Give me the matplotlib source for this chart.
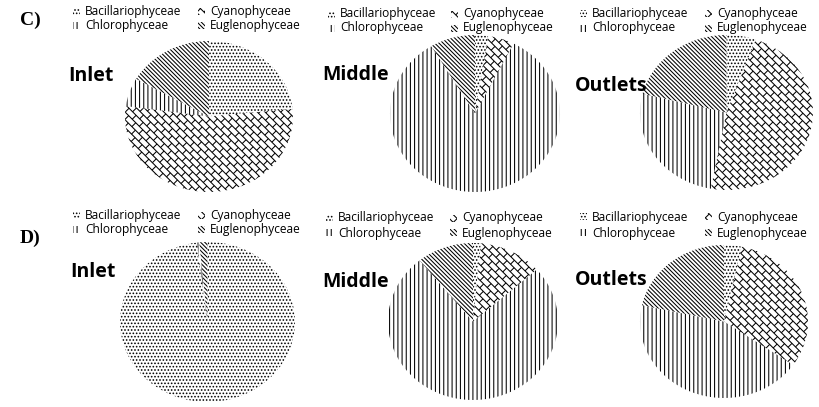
import numpy as np
import matplotlib.pyplot as plt
from matplotlib.collections import LineCollection
from matplotlib.patches import Rectangle
from matplotlib.transforms import IdentityTransform

W, H = 820, 407

categories = ['Bacillariophyceae', 'Cyanophyceae', 'Chlorophyceae', 'Euglenophyceae']
sites = ['Inlet', 'Middle', 'Outlets']
panel_labels = ['C)', 'D)']

# percentages, clockwise from 12 o'clock
c_inlet = [23.4, 53.8, 6.1, 16.7]
c_middle = [2.5, 5.0, 83.9, 8.6]
c_outlets = [5.5, 47.4, 26.0, 21.1]
d_inlet = [98.0, 0.1, 0.4, 1.5]
d_middle = [1.5, 12.0, 75.7, 10.8]
d_outlets = [3.4, 31.2, 43.8, 21.6]
data = [[c_inlet, c_middle, c_outlets], [d_inlet, d_middle, d_outlets]]

hatches = ['.....', None, '||||', '\\' * 8]  # None -> brick drawn by hand

plt.rcParams['hatch.linewidth'] = 0.75
plt.rcParams['font.family'] = ['Open Sans', 'DejaVu Sans']

# layout in pixels (left, top, right, bottom)
pie_boxes = [[(125, 41, 293, 192), (390, 35, 560, 192), (640, 35, 813, 190)],
             [(120, 242, 295, 402), (388, 243, 558, 400), (640, 245, 808, 398)]]
title_pos = [[(91, 76), (356, 75), (611, 86)],
             [(93, 272), (356, 282), (611, 280)]]
legend_pos = [[(85, 210, 11, 25), (340, 463, 14, 28), (592, 717, 13, 28)],
              [(85, 210, 215, 229), (338, 462, 218, 233), (592, 717, 217, 233)]]
label_pos = [(20, 20), (20, 238)]


def brick_segments(x0, y0, x1, y1, s=5.5, L=10.0):
    # diagonal brick pattern in display pixels
    d = np.array([1.0, -1.0]) / np.sqrt(2)
    v = np.array([1.0, 1.0]) / np.sqrt(2)
    corners = np.array([[x0, y0], [x0, y1], [x1, y0], [x1, y1]])
    pv = corners @ v
    pd = corners @ d
    kmin, kmax = int(np.floor(pv.min() / s)) - 1, int(np.ceil(pv.max() / s)) + 1
    tmin, tmax = pd.min() - L, pd.max() + L
    segs = []
    for k in range(kmin, kmax):
        base = v * k * s
        segs.append([base + d * tmin, base + d * tmax])
        off = (k % 2) * L / 2
        for j in range(int(np.floor(tmin / L)), int(np.ceil(tmax / L)) + 1):
            t = j * L + off
            p = base + d * t
            segs.append([p, p + v * s])
    return segs


def add_brick(target, clip, box):
    l, t, r, b = box
    lc = LineCollection(brick_segments(l, H - b, r, H - t), colors='black',
                        linewidths=0.75, transform=IdentityTransform())
    if target is fig:
        fig.add_artist(lc)
    else:
        target.add_collection(lc, autolim=False)
    lc.set_clip_path(clip)


fig = plt.figure(figsize=(W / 100, H / 100), dpi=100)

for row in range(2):
    for col in range(3):
        l, t, r, b = pie_boxes[row][col]
        ax = fig.add_axes([l / W, 1 - b / H, (r - l) / W, (b - t) / H])
        wedges, _ = ax.pie(data[row][col], startangle=90, counterclock=False,
                           colors=['white'] * 4,
                           wedgeprops=dict(linewidth=0, edgecolor='black'))
        for w, h in zip(wedges, hatches):
            if h:
                w.set_hatch(h)
        ax.set_aspect('auto')
        ax.set_xlim(-1, 1)
        ax.set_ylim(-1, 1)
        add_brick(ax, wedges[1], (l - 5, t - 5, r + 5, b + 5))

        tx, ty = title_pos[row][col]
        fig.text(tx / W, 1 - ty / H, sites[col], fontsize=14, fontweight='bold',
                 ha='center', va='center')

        x1, x2, y1, y2 = legend_pos[row][col]
        for i, cat in enumerate(categories):
            lx = [x1, x2][i % 2]
            ly = [y1, y2][i // 2]
            mbox = (lx - 12, ly - 3.5, lx - 5, ly + 3.5)
            rect = Rectangle(((lx - 12) / W, 1 - (ly + 3.5) / H), 7 / W, 7 / H,
                             transform=fig.transFigure, facecolor='white',
                             edgecolor='black', linewidth=0,
                             hatch=hatches[i] if hatches[i] else None)
            fig.add_artist(rect)
            if hatches[i] is None:
                add_brick(fig, rect, mbox)
            fig.text(lx / W, 1 - ly / H, cat, fontsize=8.6, ha='left', va='center')

    px, py = label_pos[row]
    fig.text(px / W, 1 - py / H, panel_labels[row], fontsize=14, fontweight='bold',
             family='Liberation Serif', ha='left', va='center')

fig.savefig('out.png', dpi=100)
